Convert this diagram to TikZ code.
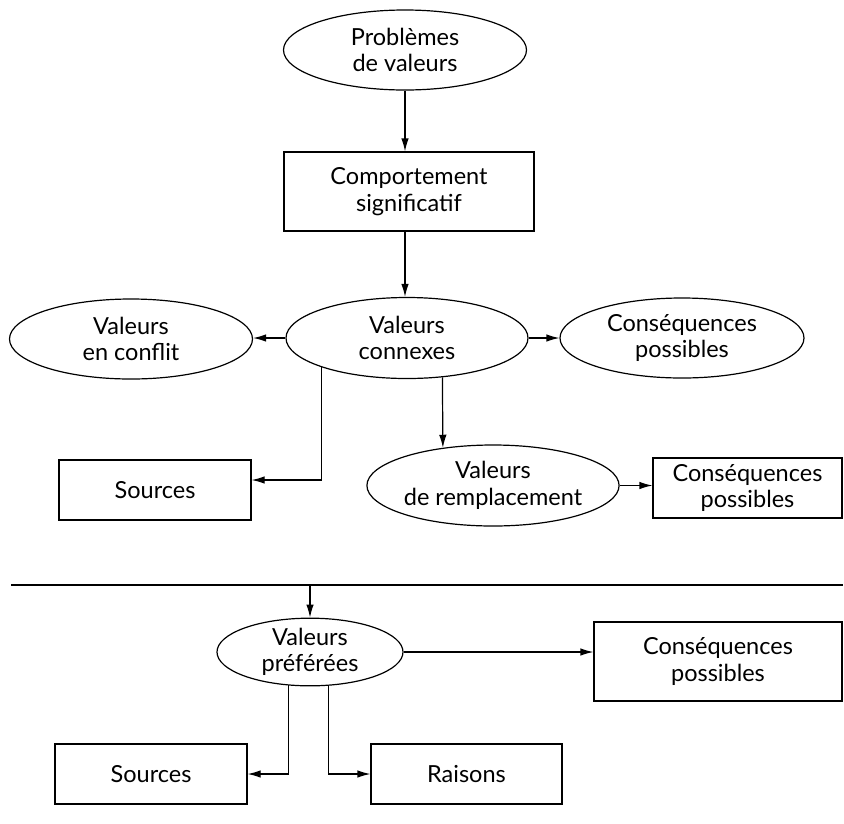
\documentclass[tikz,border=0pt]{standalone}
\usepackage{fontspec}
\setmainfont{Lato}
\usetikzlibrary{shapes.geometric,arrows.meta}
\begin{document}
\begin{tikzpicture}[x=1pt,y=-1pt,
  base/.style={draw=black,line width=1.2pt,font=\fontsize{23.5}{26.5}\selectfont,align=center,inner sep=0pt},
  oval/.style={base,ellipse},
  boxnode/.style={base,rectangle},
  arr/.style={line width=1.2pt,-{Latex[length=13pt,width=7.5pt]}},
  plain/.style={line width=1.4pt}]
\useasboundingbox (0,0) rectangle (844,823);
% upper part
\node[oval,minimum width=243pt,minimum height=80pt] (prob) at (405,50) {Problèmes\\de valeurs};
\node[boxnode,minimum width=250pt,minimum height=79pt] (comp) at (409,191.5) {Comportement\\significatif};
\node[oval,minimum width=242pt,minimum height=81pt] (connexes) at (407,338) {Valeurs\\connexes};
\node[oval,minimum width=243pt,minimum height=80pt] (conflit) at (131,339) {Valeurs\\en conflit};
\node[oval,minimum width=244pt,minimum height=80pt] (consE) at (682,338) {Conséquences\\possibles};
\node[boxnode,minimum width=192pt,minimum height=60pt] (srcA) at (155,490) {Sources};
\node[oval,minimum width=240pt,minimum height=81pt] (rempl) at (493,485.5) {Valeurs\\de remplacement};
\node[boxnode,minimum width=189pt,minimum height=60pt] (consB) at (747.5,488) {Conséquences\\possibles};
% separator
\coordinate (ruleL) at (11,585);
\coordinate (ruleR) at (843,585);
\coordinate (ruleP) at (310,585);
\draw[plain] (ruleL) -- (ruleR);
% lower part
\node[oval,minimum width=186pt,minimum height=65pt] (pref) at (310,652) {Valeurs\\préférées};
\node[boxnode,minimum width=248pt,minimum height=79pt] (consC) at (718,661.5) {Conséquences\\possibles};
\node[boxnode,minimum width=192pt,minimum height=60pt] (srcB) at (151,774) {Sources};
\node[boxnode,minimum width=191pt,minimum height=60pt] (rais) at (466.5,774) {Raisons};
% connectors
\draw[arr] (prob.south) -- (prob.south |- comp.north);
\draw[arr] (comp.south -| prob.south) -- (connexes.north -| prob.south);
\draw[arr] (connexes.west) -- (connexes.west -| conflit.east);
\draw[arr] (connexes.east) -- (connexes.east -| consE.west);
\draw[arr] (connexes.199.4) |- ([yshift=10pt]srcA.east);
\draw[arr] (connexes.312.7) -- (rempl.143.6);
\draw[arr] (rempl.east) -- (rempl.east -| consB.west);
\draw[arr] (ruleP) -- (pref.north);
\draw[arr] (pref.east) -- (pref.east -| consC.west);
\draw[arr] (pref.237.8) |- (srcB.east);
\draw[arr] (pref.299.4) |- (rais.west);
\end{tikzpicture}
\end{document}
